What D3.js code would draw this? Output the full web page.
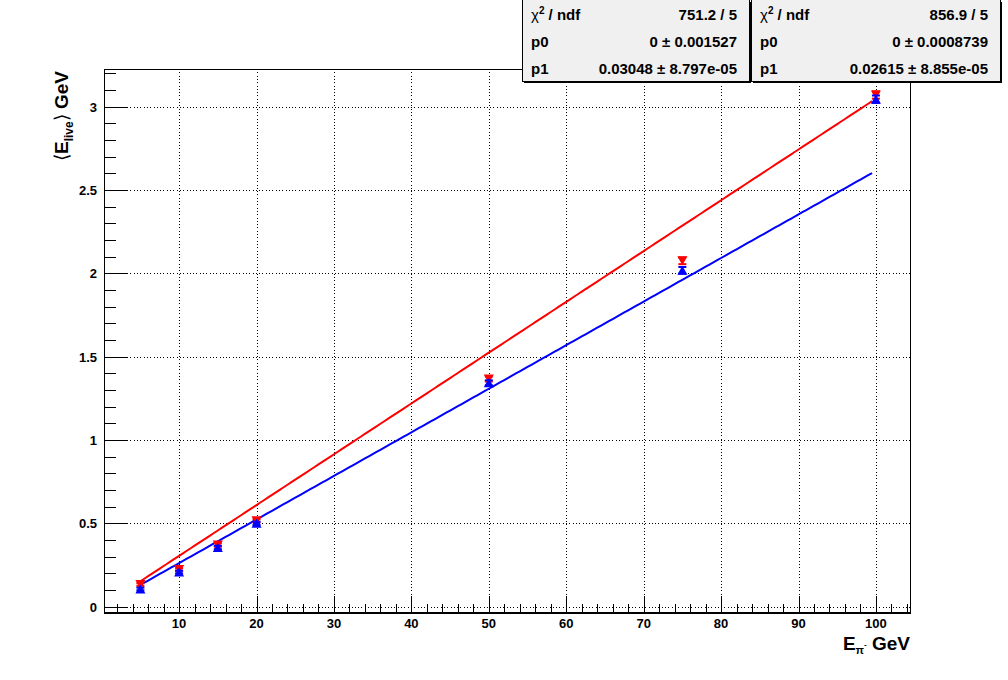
<!DOCTYPE html>
<html>
<head>
<meta charset="utf-8">
<script src="https://cdn.jsdelivr.net/npm/d3@7"></script>
<style>
  html, body { margin: 0; padding: 0; background: #fff; }
  svg { display: block; font-family: "Liberation Sans", Arial, Helvetica, sans-serif; }
</style>
</head>
<body>
<svg id="chart" width="1008" height="680"></svg>
<script>
// ---- data ----
const beamEnergies = [5, 10, 15, 20, 50, 75, 100];
const redValues  = [0.133, 0.223, 0.370, 0.515, 1.366, 2.075, 3.070];
const redErrors  = [0.008, 0.008, 0.010, 0.010, 0.015, 0.020, 0.022];
const blueValues = [0.106, 0.208, 0.355, 0.500, 1.343, 2.018, 3.045];
const blueErrors = [0.008, 0.008, 0.010, 0.010, 0.015, 0.020, 0.022];
const redFit  = { p0: 0, p1: 0.03048 };
const blueFit = { p0: 0, p1: 0.02615 };
const fitRange = [5, 99.5];
const xTickLabels = [10, 20, 30, 40, 50, 60, 70, 80, 90, 100];
const yTickLabels = [0, 0.5, 1, 1.5, 2, 2.5, 3];
const statNames  = ["χ2 / ndf", "p0", "p1"];
const redStats   = ["751.2 / 5", "0 ± 0.001527", "0.03048 ± 8.797e-05"];
const blueStats  = ["856.9 / 5", "0 ± 0.0008739", "0.02615 ± 8.855e-05"];

// ---- layout ----
const svg = d3.select("#chart");
const L = 104, R = 910, T = 69, B = 612;
const x = d3.scaleLinear().domain([0.3, 104.4]).range([L, R]);
const y = d3.scaleLinear().domain([-0.032, 3.226]).range([B, T]);

// grid (dotted)
const grid = svg.append("g").attr("stroke", "#000").attr("stroke-width", 1)
  .attr("stroke-dasharray", "1,2.3").attr("shape-rendering", "crispEdges");
grid.selectAll(".gx").data(xTickLabels).enter().append("line")
  .attr("x1", d => Math.round(x(d)) + 0.5).attr("x2", d => Math.round(x(d)) + 0.5)
  .attr("y1", T).attr("y2", B);
grid.selectAll(".gy").data(yTickLabels).enter().append("line")
  .attr("y1", d => Math.round(y(d)) + 0.5).attr("y2", d => Math.round(y(d)) + 0.5)
  .attr("x1", L).attr("x2", R);

// fit lines
function fitLine(fit, color) {
  const pts = d3.range(fitRange[0], fitRange[1] + 0.001, 0.5).map(e => [e, fit.p0 + fit.p1 * e]);
  svg.append("path").datum(pts)
    .attr("d", d3.line().x(d => x(d[0])).y(d => y(d[1])))
    .attr("fill", "none").attr("stroke", color).attr("stroke-width", 2);
}
fitLine(redFit, "#ff0000");
fitLine(blueFit, "#0000ff");

// points with error bars
function drawPoints(vals, errs, color, up) {
  const g = svg.append("g");
  beamEnergies.forEach((e, i) => {
    const cx = x(e), cy = y(vals[i]);
    const ylo = y(vals[i] - errs[i]), yhi = y(vals[i] + errs[i]);
    g.append("line").attr("x1", cx).attr("x2", cx).attr("y1", ylo).attr("y2", yhi)
      .attr("stroke", color).attr("stroke-width", 1);
    [ylo, yhi].forEach(yy => g.append("line")
      .attr("x1", cx - 4).attr("x2", cx + 4).attr("y1", yy).attr("y2", yy)
      .attr("stroke", color).attr("stroke-width", 2));
    const p = up
      ? `M${cx - 5},${cy + 4.5} L${cx + 5},${cy + 4.5} L${cx},${cy - 4.5} Z`
      : `M${cx - 5},${cy - 4.5} L${cx + 5},${cy - 4.5} L${cx},${cy + 4.5} Z`;
    g.append("path").attr("d", p).attr("fill", color);
  });
}
drawPoints(redValues, redErrors, "#ff0000", false);
drawPoints(blueValues, blueErrors, "#0000ff", true);

// frame
svg.append("rect").attr("x", L + 0.5).attr("y", T + 0.5).attr("width", R - L).attr("height", B - T)
  .attr("fill", "none").attr("stroke", "#000").attr("stroke-width", 1).attr("shape-rendering", "crispEdges");
svg.append("line").attr("x1", L).attr("x2", R + 1).attr("y1", B + 0.5).attr("y2", B + 0.5)
  .attr("stroke", "#000").attr("stroke-width", 2).attr("shape-rendering", "crispEdges");

// ticks
const tk = svg.append("g").attr("stroke", "#000").attr("stroke-width", 1).attr("shape-rendering", "crispEdges");
const xMinor = d3.range(2, 104.4, 2).filter(v => v % 10 !== 0);
tk.selectAll(".xmaj").data(xTickLabels).enter().append("line")
  .attr("x1", d => Math.round(x(d)) + 0.5).attr("x2", d => Math.round(x(d)) + 0.5)
  .attr("y1", B).attr("y2", B - 16);
tk.selectAll(".xmin").data(xMinor).enter().append("line")
  .attr("x1", d => Math.round(x(d)) + 0.5).attr("x2", d => Math.round(x(d)) + 0.5)
  .attr("y1", B).attr("y2", B - 8);
const yMinor = d3.range(0, 33).map(i => i / 10).filter(v => Math.round(v * 10) % 5 !== 0);
tk.selectAll(".ymaj").data(yTickLabels).enter().append("line")
  .attr("y1", d => Math.round(y(d)) + 0.5).attr("y2", d => Math.round(y(d)) + 0.5)
  .attr("x1", L).attr("x2", L + 24);
tk.selectAll(".ymin").data(yMinor).enter().append("line")
  .attr("y1", d => Math.round(y(d)) + 0.5).attr("y2", d => Math.round(y(d)) + 0.5)
  .attr("x1", L).attr("x2", L + 12);

// tick labels
svg.selectAll(".xl").data(xTickLabels).enter().append("text")
  .attr("x", d => x(d)).attr("y", 628).attr("text-anchor", "middle")
  .attr("font-size", 13).attr("font-weight", "bold").text(d => d);
svg.selectAll(".yl").data(yTickLabels).enter().append("text")
  .attr("x", 97).attr("y", d => y(d) + 5).attr("text-anchor", "end")
  .attr("font-size", 13).attr("font-weight", "bold").text(d => d);

// axis titles
const xt = svg.append("text").attr("x", 910).attr("y", 650).attr("text-anchor", "end")
  .attr("font-size", 19).attr("font-weight", "bold");
xt.append("tspan").text("E");
xt.append("tspan").attr("font-size", 11).attr("dy", 4).text("π");
xt.append("tspan").attr("font-size", 8).attr("dy", -7).text("-");
xt.append("tspan").attr("dy", 3).text(" GeV");

const yt = svg.append("text").attr("transform", "translate(68,71) rotate(-90)")
  .attr("text-anchor", "end").attr("font-size", 19).attr("font-weight", "bold");
yt.append("tspan").attr("font-weight", "normal").text("⟨");
yt.append("tspan").text("E");
yt.append("tspan").attr("font-size", 12).attr("dy", 5).text("live");
yt.append("tspan").attr("dy", -5).attr("font-weight", "normal").text("⟩");
yt.append("tspan").text(" GeV");

// stats boxes
function statBox(x0, x1, vals) {
  const g = svg.append("g");
  g.append("rect").attr("x", x0 + 2).attr("y", 2).attr("width", x1 - x0).attr("height", 81).attr("fill", "#000");
  g.append("rect").attr("x", x0 + 0.5).attr("y", -1).attr("width", x1 - x0).attr("height", 82.5)
    .attr("fill", "#f0f0f0").attr("stroke", "#000").attr("stroke-width", 1).attr("shape-rendering", "crispEdges");
  const rowY = [20, 47, 74];
  statNames.forEach((n, i) => {
    const t = g.append("text").attr("x", x0 + 9).attr("y", rowY[i]).attr("font-size", 15).attr("font-weight", "bold");
    if (i === 0) {
      t.append("tspan").attr("font-weight", "normal").text("χ");
      t.append("tspan").attr("font-size", 10).attr("dy", -6).text("2");
      t.append("tspan").attr("dy", 6).text(" / ndf");
    } else t.text(n);
    g.append("text").attr("x", x1 - 12).attr("y", rowY[i]).attr("text-anchor", "end")
      .attr("font-size", 15).attr("font-weight", "bold").text(vals[i]);
  });
}
statBox(522, 749, redStats);
statBox(751, 1000, blueStats);
</script>
</body>
</html>
